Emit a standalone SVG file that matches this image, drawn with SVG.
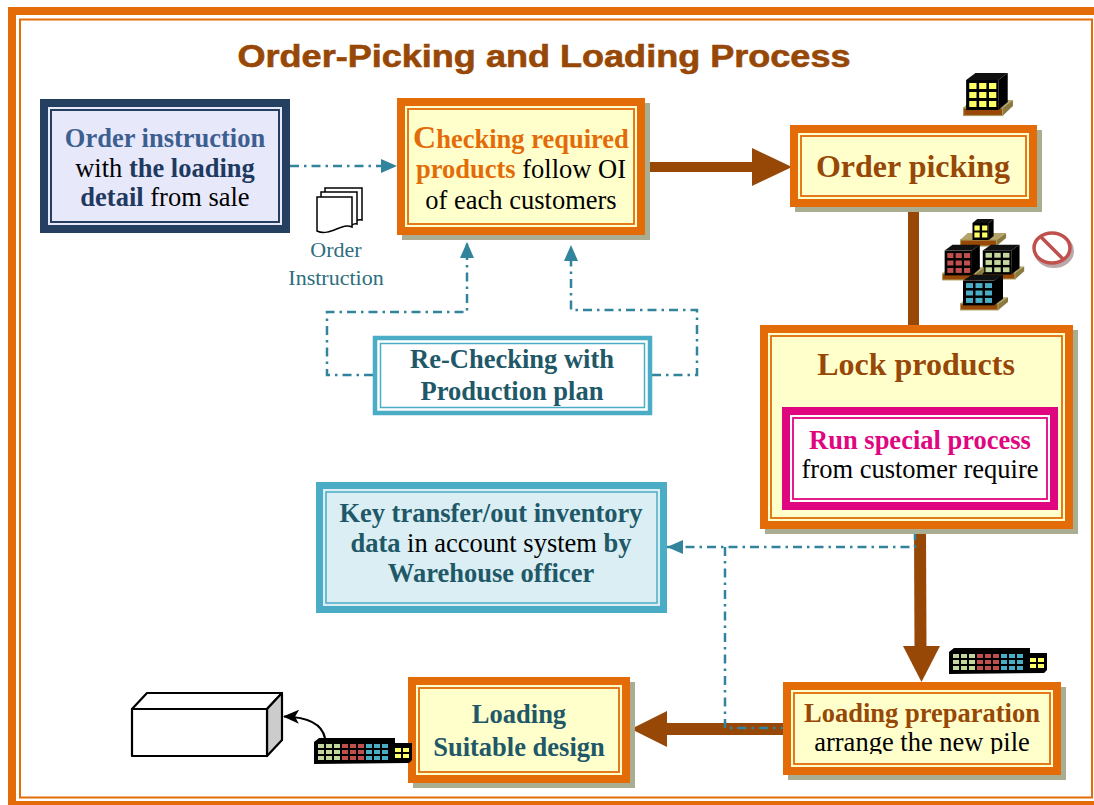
<svg xmlns="http://www.w3.org/2000/svg" xmlns:xlink="http://www.w3.org/1999/xlink" width="1094" height="805" viewBox="0 0 1094 805">
  <style>
    .serif { font-family: "Liberation Serif", "Times New Roman", serif; font-size: 26.5px; }
    .big { font-size: 32px; }
    .b { font-weight: bold; }
    .ink { fill: #000000; }
    .navy { fill: #1f3a60; }
    .steel { fill: #3d5f90; }
    .orange-t { fill: #e36c09; }
    .brown-t { fill: #974806; }
    .teal-t { fill: #215868; }
    .mag-t { fill: #e0067f; }
    .shadow { fill: #a9ad91; }
    .obox { fill: #ffffcc; stroke: #e36c09; stroke-width: 8; }
    .oline { fill: none; stroke: #e36c09; stroke-width: 1.8; }
    .dashdot { fill: none; stroke: #31849b; stroke-width: 2.5; stroke-dasharray: 9 5 2.5 5; }
    .brown { stroke: #974806; fill: none; }
    .brown-head { fill: #974806; }
  </style>
  <defs>
    <marker id="tealHead" markerUnits="userSpaceOnUse" markerWidth="16" markerHeight="14" refX="16" refY="7" orient="auto">
      <path d="M0,0 L16,7 L0,14 z" fill="#31849b"/>
    </marker>
    <marker id="blackHead" markerUnits="userSpaceOnUse" markerWidth="16" markerHeight="14" refX="15" refY="7" orient="auto">
      <path d="M0,0 L16,7 L0,14 L4,7 z" fill="#000"/>
    </marker>
    <!-- pallet with a 3x3 crate; window colour comes from currentColor -->
    <symbol id="crate" viewBox="0 0 50 46" preserveAspectRatio="none">
      <polygon points="0,36 8,28 48,28 38,36" fill="#b4a46a"/>
      <polygon points="38,36 48,28 48,34 38,44" fill="#8a7a40"/>
      <rect x="0.5" y="36" width="37.5" height="7.5" fill="#984807" stroke="#a89a5c" stroke-width="1.2"/>
      <polygon points="3,8 12,1 43,1 34,8" fill="#111"/>
      <polygon points="34,8 43,1 43,30 34,38" fill="#000"/>
      <rect x="3" y="8" width="31" height="30" fill="#000"/>
      <g fill="currentColor">
        <rect x="6" y="11" width="7" height="6"/><rect x="15.5" y="11" width="7" height="6"/><rect x="25" y="11" width="7" height="6"/>
        <rect x="6" y="20" width="7" height="6"/><rect x="15.5" y="20" width="7" height="6"/><rect x="25" y="20" width="7" height="6"/>
        <rect x="6" y="29" width="7" height="6"/><rect x="15.5" y="29" width="7" height="6"/><rect x="25" y="29" width="7" height="6"/>
      </g>
    </symbol>
    <!-- smaller pallet with a 2x2 crate -->
    <symbol id="crate2" viewBox="0 0 50 30" preserveAspectRatio="none">
      <polygon points="0,22 8,15 48,15 38,22" fill="#b4a46a"/>
      <polygon points="38,22 48,15 48,20 38,28" fill="#8a7a40"/>
      <rect x="0.5" y="22" width="37.5" height="6" fill="#984807" stroke="#a89a5c" stroke-width="1.2"/>
      <polygon points="13,5 18,1 35,1 30,5" fill="#111"/>
      <polygon points="30,5 35,1 35,18 30,22" fill="#000"/>
      <rect x="13" y="5" width="17" height="17" fill="#000"/>
      <g fill="currentColor">
        <rect x="15" y="7.5" width="5.5" height="5"/><rect x="23" y="7.5" width="5.5" height="5"/>
        <rect x="15" y="14.5" width="5.5" height="5"/><rect x="23" y="14.5" width="5.5" height="5"/>
      </g>
    </symbol>
    <!-- long row of mixed crates -->
    <symbol id="pile" viewBox="0 0 100 28" preserveAspectRatio="none">
      <polygon points="1,5 6,1 82,1 82,6 99,6 99,23 96,26 1,27" fill="#000"/>
      <g fill="#c3d69b">
        <rect x="5" y="7" width="6" height="4"/><rect x="13" y="7" width="6" height="4"/><rect x="21" y="7" width="6" height="4"/>
        <rect x="5" y="13" width="6" height="4"/><rect x="13" y="13" width="6" height="4"/><rect x="21" y="13" width="6" height="4"/>
        <rect x="5" y="19" width="6" height="4"/><rect x="13" y="19" width="6" height="4"/><rect x="21" y="19" width="6" height="4"/>
      </g>
      <g fill="#c0504d">
        <rect x="29" y="7" width="6" height="4"/><rect x="37" y="7" width="6" height="4"/><rect x="45" y="7" width="6" height="4"/>
        <rect x="29" y="13" width="6" height="4"/><rect x="37" y="13" width="6" height="4"/><rect x="45" y="13" width="6" height="4"/>
        <rect x="29" y="19" width="6" height="4"/><rect x="37" y="19" width="6" height="4"/><rect x="45" y="19" width="6" height="4"/>
      </g>
      <g fill="#4bacc6">
        <rect x="53" y="7" width="6" height="4"/><rect x="61" y="7" width="6" height="4"/><rect x="69" y="7" width="6" height="4"/>
        <rect x="53" y="13" width="6" height="4"/><rect x="61" y="13" width="6" height="4"/><rect x="69" y="13" width="6" height="4"/>
        <rect x="53" y="19" width="6" height="4"/><rect x="61" y="19" width="6" height="4"/><rect x="69" y="19" width="6" height="4"/>
      </g>
      <g fill="#ffff66">
        <rect x="82" y="11" width="6" height="4"/><rect x="90" y="11" width="6" height="4"/>
        <rect x="82" y="17" width="6" height="4"/><rect x="90" y="17" width="6" height="4"/>
      </g>
    </symbol>
    <clipPath id="prepClip">
      <rect x="783" y="682" width="278" height="72"/>
    </clipPath>
  </defs>

  <rect width="1094" height="805" fill="#ffffff"/>

  <!-- page frame -->
  <g id="frame">
    <rect x="12" y="11" width="1087" height="794" fill="none" stroke="#e36c09" stroke-width="8"/>
    <rect x="20" y="19.5" width="1072" height="778" fill="none" stroke="#e36c09" stroke-width="2"/>
  </g>

  <text id="title" x="544" y="67" text-anchor="middle" font-family="'Liberation Sans', Arial, sans-serif" font-size="31" font-weight="bold" fill="#974806" stroke="#974806" stroke-width="0.6" textLength="613" lengthAdjust="spacingAndGlyphs">Order-Picking and Loading Process</text>

  <!-- connectors -->
  <g id="connectors">
    <path class="dashdot" d="M290,166 H397" marker-end="url(#tealHead)"/>
    <path class="dashdot" d="M373,375 H327 V312 H467 V242" marker-end="url(#tealHead)"/>
    <path class="dashdot" d="M652,375 H697 V310 H571 V245" marker-end="url(#tealHead)"/>

    <line class="brown" x1="645" y1="167" x2="756" y2="167" stroke-width="10"/>
    <polygon class="brown-head" points="752,148 792,167 752,186"/>

    <line class="brown" x1="913.5" y1="207" x2="913.5" y2="326" stroke-width="11"/>

    <line class="brown" x1="920" y1="528" x2="920.5" y2="650" stroke-width="12"/>
    <polygon class="brown-head" points="903,646 940,646 921.5,682"/>

    <line class="brown" x1="784" y1="729" x2="663" y2="729" stroke-width="12"/>
    <polygon class="brown-head" points="667,711 631,729 667,747"/>

    <path class="dashdot" d="M915,531 V547 H667" marker-end="url(#tealHead)"/>
    <path class="dashdot" d="M725,547 V728 H783"/>

    <path d="M325,738 C322,724 308,717 284,716.5" fill="none" stroke="#000" stroke-width="2.2" marker-end="url(#blackHead)"/>
  </g>

  <!-- Order instruction -->
  <g id="order-instruction">
    <rect x="44" y="103" width="242" height="126" fill="#e8e8fb" stroke="#243f60" stroke-width="8"/>
    <rect x="51" y="110" width="228" height="112" fill="none" stroke="#243f60" stroke-width="2"/>
    <text class="serif" x="165" y="147" text-anchor="middle"><tspan class="b steel">Order instruction</tspan></text>
    <text class="serif" x="165" y="177" text-anchor="middle"><tspan class="ink">with </tspan><tspan class="b navy">the loading</tspan></text>
    <text class="serif" x="165" y="206" text-anchor="middle"><tspan class="b navy">detail</tspan><tspan class="ink"> from sale</tspan></text>
  </g>

  <!-- document stack -->
  <g id="order-document" fill="#ffffff" stroke="#000" stroke-width="1.5">
    <path d="M325,188 H362 V220 C358,219 356,221 353,222 V196 H325 Z"/>
    <path d="M321,192 H357 V224 C354,223 352,225 350,226 V200 H321 Z"/>
    <path d="M317,197 H352 V227 C342,222 330,237 317,231 Z"/>
  </g>
  <g id="order-document-label" font-family="'Liberation Serif', 'Times New Roman', serif" font-size="22" fill="#2e6e7e" text-anchor="middle">
    <text x="336" y="257">Order</text>
    <text x="336" y="285">Instruction</text>
  </g>

  <!-- Checking required products -->
  <g id="checking">
    <rect class="shadow" x="402" y="103" width="248" height="137"/>
    <rect class="obox" x="401" y="102" width="240" height="129"/>
    <rect class="oline" x="408" y="109" width="226" height="115"/>
    <text class="serif" x="521" y="148" text-anchor="middle"><tspan class="b orange-t big">C</tspan><tspan class="b orange-t">hecking required</tspan></text>
    <text class="serif" x="521" y="178" text-anchor="middle"><tspan class="b orange-t">products</tspan><tspan class="ink"> follow OI</tspan></text>
    <text class="serif ink" x="521" y="209" text-anchor="middle">of each customers</text>
  </g>

  <!-- Order picking -->
  <g id="order-picking">
    <rect class="shadow" x="795" y="130" width="247" height="82"/>
    <rect class="obox" x="794" y="129" width="239" height="74"/>
    <rect class="oline" x="801" y="136" width="225" height="60"/>
    <text class="serif big b brown-t" x="913" y="177" text-anchor="middle">Order picking</text>
  </g>

  <!-- Re-Checking with Production plan -->
  <g id="re-checking">
    <rect x="375" y="338" width="275" height="75" fill="#ffffff" stroke="#4bacc6" stroke-width="4.5"/>
    <rect x="380.5" y="343.5" width="264" height="64" fill="none" stroke="#4bacc6" stroke-width="1.5"/>
    <text class="serif b teal-t" x="512" y="368" text-anchor="middle">Re-Checking with</text>
    <text class="serif b teal-t" x="512" y="400" text-anchor="middle">Production plan</text>
  </g>

  <!-- Lock products -->
  <g id="lock-products">
    <rect class="shadow" x="765" y="330" width="313" height="204"/>
    <rect class="obox" x="764" y="329" width="305" height="196"/>
    <rect class="oline" x="771" y="336" width="291" height="182"/>
    <text class="serif big b brown-t" x="916" y="375" text-anchor="middle">Lock products</text>
    <g id="run-special-process">
      <rect x="786" y="411" width="268" height="95" fill="#ffffff" stroke="#e0067f" stroke-width="8"/>
      <rect x="793" y="418" width="254" height="81" fill="none" stroke="#e0067f" stroke-width="1.8"/>
      <text class="serif b mag-t" x="920" y="449" text-anchor="middle">Run special process</text>
      <text class="serif ink" x="920" y="478" text-anchor="middle">from customer require</text>
    </g>
  </g>

  <!-- Key transfer/out inventory -->
  <g id="key-transfer">
    <rect x="319.5" y="485.5" width="344" height="124" fill="#daeef3" stroke="#4bacc6" stroke-width="7"/>
    <rect x="326" y="492" width="331" height="111" fill="none" stroke="#4bacc6" stroke-width="1.5"/>
    <text class="serif b teal-t" x="491" y="522" text-anchor="middle">Key transfer/out inventory</text>
    <text class="serif" x="491" y="552" text-anchor="middle"><tspan class="b teal-t">data</tspan><tspan class="ink"> in account system </tspan><tspan class="b teal-t">by</tspan></text>
    <text class="serif b teal-t" x="491" y="582" text-anchor="middle">Warehouse officer</text>
  </g>

  <!-- Loading preparation -->
  <g id="loading-preparation">
    <rect class="shadow" x="788" y="687" width="278" height="93"/>
    <rect class="obox" x="787" y="686" width="270" height="85"/>
    <rect class="oline" x="794" y="693" width="256" height="71"/>
    <text class="serif b brown-t" x="922" y="722" text-anchor="middle">Loading preparation</text>
    <text class="serif ink" x="922" y="751" text-anchor="middle" clip-path="url(#prepClip)">arrange the new pile</text>
  </g>

  <!-- Loading Suitable design -->
  <g id="loading-design">
    <rect class="shadow" x="413" y="682" width="222" height="106"/>
    <rect class="obox" x="412" y="681" width="214" height="98"/>
    <rect class="oline" x="419" y="688" width="200" height="84"/>
    <text class="serif b teal-t" x="519" y="723" text-anchor="middle">Loading</text>
    <text class="serif b teal-t" x="519" y="756" text-anchor="middle">Suitable design</text>
  </g>

  <!-- truck container -->
  <g id="container" stroke="#000" stroke-width="2.2" stroke-linejoin="round">
    <polygon points="132,709 147,693 282,693 267,709" fill="#ffffff"/>
    <polygon points="267,709 282,693 282,740 267,756" fill="#cccccc"/>
    <rect x="132" y="709" width="135" height="47" fill="#ffffff"/>
  </g>

  <!-- pallets and crates -->
  <g id="stock-icons">
    <use href="#crate" xlink:href="#crate" x="963" y="72" width="52" height="46" color="#ffff66"/>
    <use href="#crate2" xlink:href="#crate2" x="960" y="218" width="48" height="30" color="#ffff66"/>
    <use href="#crate" xlink:href="#crate" x="980" y="244" width="46" height="37" color="#c3d69b"/>
    <use href="#crate" xlink:href="#crate" x="942" y="244" width="44" height="38" color="#c0504d"/>
    <use href="#crate" xlink:href="#crate" x="960" y="274" width="50" height="38" color="#4bacc6"/>
    <use href="#pile" xlink:href="#pile" x="948" y="647" width="100" height="28"/>
    <use href="#pile" xlink:href="#pile" x="313" y="737" width="100" height="28"/>
  </g>

  <!-- no-entry sign -->
  <g id="prohibit-sign">
    <ellipse cx="1054" cy="251" rx="18" ry="15" fill="none" stroke="#b9a9ab" stroke-width="4"/>
    <ellipse cx="1052" cy="248" rx="18" ry="15" fill="#ffffff" stroke="#c0504d" stroke-width="3.5"/>
    <line x1="1041" y1="237" x2="1063" y2="259" stroke="#c0504d" stroke-width="3.5"/>
  </g>
</svg>
